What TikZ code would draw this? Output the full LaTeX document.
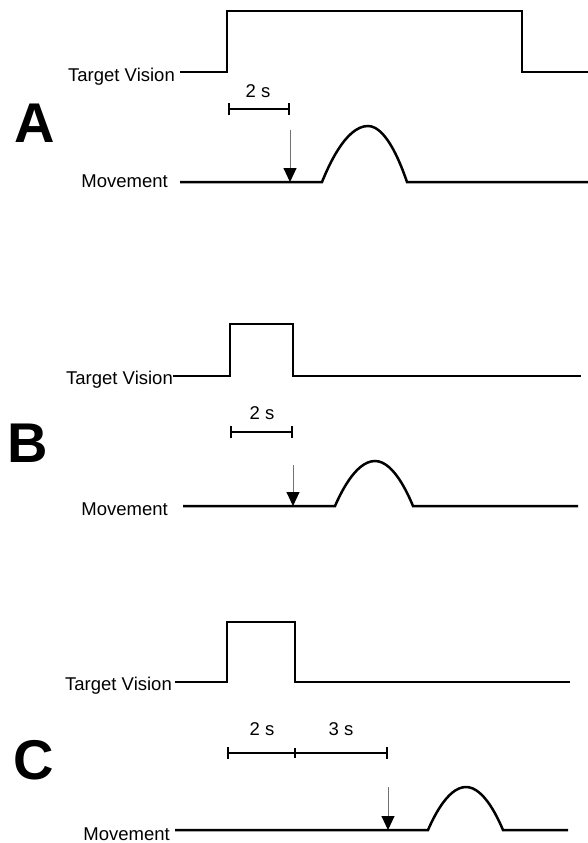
\documentclass[tikz,border=0pt]{standalone}
\usepackage{fontspec}
\setmainfont{Liberation Sans}
\usetikzlibrary{arrows.meta}

\tikzset{
  trace/.style={line width=2.5pt, line join=miter},
  lbl/.style={font=\fontsize{18.5}{21}\selectfont, inner sep=0pt},
  panel/.style={font=\fontsize{56}{60}\selectfont\bfseries, inner sep=0pt},
  scalebar/.style={line width=2.2pt, {Bar[width=12pt]}-{Bar[width=12pt]}},
  midtick/.style={line width=2pt},
  cue/.style={draw=black!55, line width=1pt,
    -{Triangle[length=14pt,width=13pt,color=black]}}
}

\begin{document}
\begin{tikzpicture}[x=1pt, y=-1pt]
\useasboundingbox (0,0) rectangle (588,843);

% ---------- Panel A ----------
\node[panel] (pA) at (35,123) {A};
\node[lbl, anchor=base east] (tvA) at (175,81.5) {Target Vision};
\coordinate (tvA0) at (180,72);
\draw[trace] (tvA0) -- (227,72) -- (227,11) -- (522,11) -- (522,72) -- (588,72);
\node[lbl, anchor=base] (dA) at (258,97) {2 s};
\coordinate (sA0) at (228,109);
\coordinate (sA1) at (290,109);
\draw[scalebar] (sA0) -- (sA1);
\node[lbl, anchor=base east] (mvA) at (168,187) {Movement};
\coordinate (mvA0) at (180,182);
\coordinate (goA) at (290,182);
\draw[trace] (mvA0) -- (322,182) parabola bend (368,126) (407,182) -- (588,182);
\coordinate (cueA) at (290,130);
\draw[cue] (cueA) -- (goA);

% ---------- Panel B ----------
\node[panel] (pB) at (28,443) {B};
\node[lbl, anchor=base east] (tvB) at (173,384) {Target Vision};
\coordinate (tvB0) at (173,376);
\draw[trace] (tvB0) -- (230,376) -- (230,324) -- (293,324) -- (293,376) -- (581,376);
\node[lbl, anchor=base] (dB) at (262,419) {2 s};
\coordinate (sB0) at (230,432);
\coordinate (sB1) at (293,432);
\draw[scalebar] (sB0) -- (sB1);
\node[lbl, anchor=base east] (mvB) at (168,515) {Movement};
\coordinate (mvB0) at (183,506);
\coordinate (goB) at (293,506);
\draw[trace] (mvB0) -- (335,506) parabola bend (375,461) (413,506) -- (578,506);
\coordinate (cueB) at (293,465);
\draw[cue] (cueB) -- (goB);

% ---------- Panel C ----------
\node[panel] (pC) at (34,760) {C};
\node[lbl, anchor=base east] (tvC) at (172,690) {Target Vision};
\coordinate (tvC0) at (175,682);
\draw[trace] (tvC0) -- (227,682) -- (227,622) -- (295,622) -- (295,682) -- (570,682);
\node[lbl, anchor=base] (dC1) at (262,735) {2 s};
\node[lbl, anchor=base] (dC2) at (341,735) {3 s};
\coordinate (sC0) at (227,753);
\coordinate (sC1) at (295,753);
\coordinate (sC2) at (388,753);
\draw[scalebar] (sC0) -- (sC2);
\draw[midtick] ([yshift=-5pt]sC1) -- ([yshift=5pt]sC1);
\node[lbl, anchor=base east] (mvC) at (170,840) {Movement};
\coordinate (mvC0) at (175,830);
\coordinate (goC) at (388,830);
\draw[trace] (mvC0) -- (428,830) parabola bend (466,787) (503,830) -- (568,830);
\coordinate (cueC) at (388,787);
\draw[cue] (cueC) -- (goC);
\end{tikzpicture}
\end{document}
